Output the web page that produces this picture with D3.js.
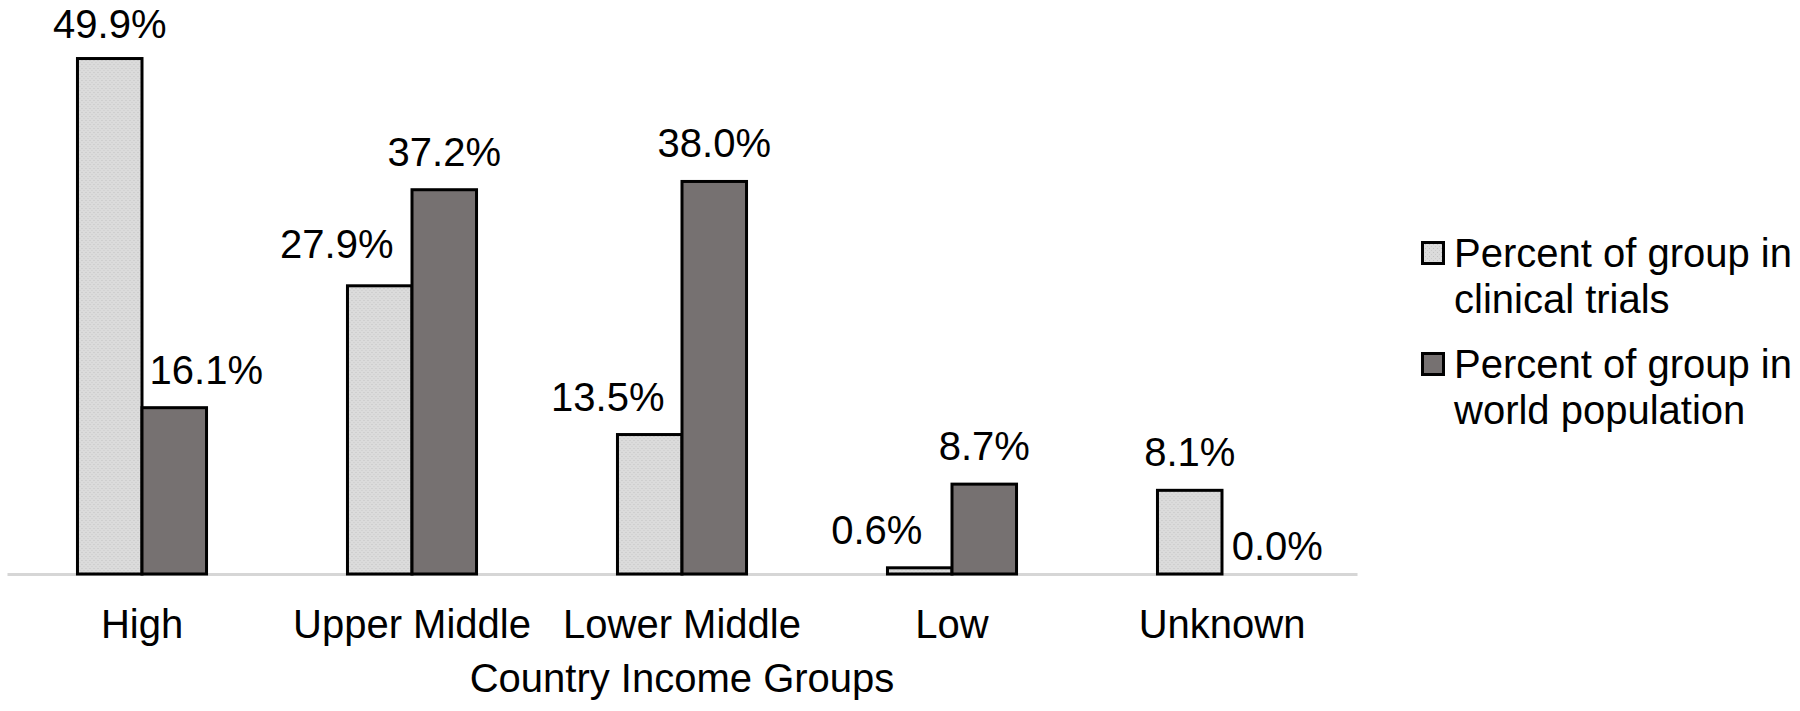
<!DOCTYPE html>
<html>
<head>
<meta charset="utf-8">
<script src="https://cdn.jsdelivr.net/npm/d3@7"></script>
<style>
  body { margin: 0; background: #fff; }
  svg { display: block; font-family: "Liberation Sans", Arial, sans-serif; }
</style>
</head>
<body>
<div id="chart"></div>
<script>
// data
const groups = ['High', 'Upper Middle', 'Lower Middle', 'Low', 'Unknown'];
const seriesNames = ['Percent of group in clinical trials', 'Percent of group in world population'];
const trials = [49.9, 27.9, 13.5, 0.6, 8.1];
const population = [16.1, 37.2, 38.0, 8.7, 0.0];
const xTitle = 'Country Income Groups';

// label nudges (px), same order as groups, to mimic where the labels sit
const trialsNudge = [[0, 3], [-43, -4], [-42, 0], [-43, 0], [0, 0]];
const popNudge = [[32, 0], [0, 0], [0, 0], [0, 0], [23, 10]];

const width = 1800, height = 711;
const svg = d3.select('#chart').append('svg')
  .attr('width', width)
  .attr('height', height);

const defs = svg.append('defs');
const pat = defs.append('pattern')
  .attr('id', 'dots')
  .attr('width', 4).attr('height', 4)
  .attr('patternUnits', 'userSpaceOnUse');
pat.append('rect').attr('width', 4).attr('height', 4).attr('fill', '#dbdbdb');
pat.append('rect').attr('x', 0).attr('y', 0).attr('width', 1).attr('height', 1).attr('fill', '#c2c2c2');
pat.append('rect').attr('x', 2).attr('y', 2).attr('width', 1).attr('height', 1).attr('fill', '#cacaca');

const fills = ['url(#dots)', '#767171'];

const x0 = d3.scaleBand()
  .domain(groups)
  .range([7, 1357])
  .paddingInner(0.522)
  .paddingOuter(0.261);

const x1 = d3.scaleBand()
  .domain([0, 1])
  .range([0, x0.bandwidth()]);

const y = d3.scaleLinear()
  .domain([0, 50])
  .range([574, 57.5]);

const rows = groups.map((g, i) => ({
  group: g,
  vals: [
    { s: 0, v: trials[i], nudge: trialsNudge[i] },
    { s: 1, v: population[i], nudge: popNudge[i] }
  ]
}));

// axis line + category labels
const xAxis = svg.append('g')
  .attr('transform', `translate(0,${y(0)})`)
  .call(d3.axisBottom(x0).tickSize(0).tickPadding(36));
xAxis.select('.domain')
  .attr('stroke', '#d6d6d6')
  .attr('stroke-width', 3);
xAxis.selectAll('text')
  .attr('font-size', 40)
  .attr('fill', '#000')
  .attr('font-family', '"Liberation Sans", Arial, sans-serif');

const g = svg.selectAll('.grp')
  .data(rows)
  .enter()
    .append('g')
    .attr('class', 'grp')
    .attr('transform', d => `translate(${x0(d.group)},0)`);

g.selectAll('rect')
  .data(d => d.vals.filter(v => v.v > 0))
  .enter()
    .append('rect')
    .attr('x', d => x1(d.s))
    .attr('y', d => y(d.v))
    .attr('width', x1.bandwidth())
    .attr('height', d => y(0) - y(d.v))
    .attr('fill', d => fills[d.s])
    .attr('stroke', '#000')
    .attr('stroke-width', 3);

g.selectAll('text.val')
  .data(d => d.vals)
  .enter()
    .append('text')
    .attr('class', 'val')
    .attr('x', d => x1(d.s) + x1.bandwidth() / 2 + d.nudge[0])
    .attr('y', d => y(d.v) - 24 + d.nudge[1])
    .attr('text-anchor', 'middle')
    .attr('font-size', 40)
    .attr('fill', '#000')
    .text(d => d.v.toFixed(1) + '%');

// axis title
svg.append('text')
  .attr('x', (x0.range()[0] + x0.range()[1]) / 2)
  .attr('y', 692)
  .attr('text-anchor', 'middle')
  .attr('font-size', 40)
  .attr('fill', '#000')
  .text(xTitle);

// legend
const legend = svg.append('g').attr('transform', 'translate(1421,0)');
const legendTop = [267, 378];
seriesNames.forEach((name, i) => {
  const words = name.split(' in ');
  const item = legend.append('g');
  item.append('rect')
    .attr('x', 1.5)
    .attr('y', legendTop[i] - 24.5)
    .attr('width', 21)
    .attr('height', 21)
    .attr('fill', fills[i])
    .attr('stroke', '#000')
    .attr('stroke-width', 3);
  const t = item.append('text')
    .attr('x', 33)
    .attr('y', legendTop[i])
    .attr('font-size', 40)
    .attr('fill', '#000');
  t.append('tspan').attr('x', 33).text(words[0] + ' in');
  t.append('tspan').attr('x', 33).attr('dy', 46).text(words[1]);
});
</script>
</body>
</html>
